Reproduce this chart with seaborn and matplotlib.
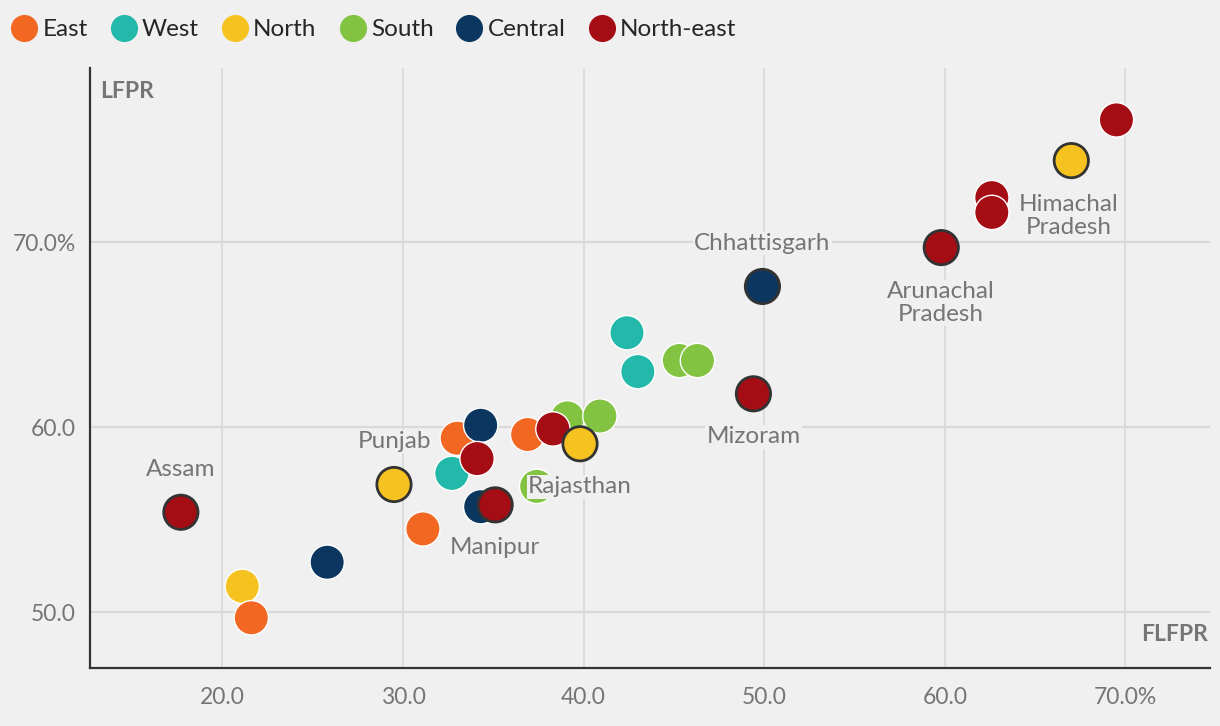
import pandas as pd
import matplotlib
matplotlib.use("Agg")
import matplotlib.pyplot as plt
from matplotlib.lines import Line2D
import seaborn as sns

# one row per state: region, female LFPR (x), overall LFPR (y), label if highlighted
region = ['North-east', 'North', 'East', 'Central', 'North', 'East', 'West', 'East',
          'Central', 'North-east', 'Central', 'North-east', 'East', 'South', 'South',
          'North-east', 'South', 'North', 'West', 'West', 'South', 'South',
          'North-east', 'Central', 'North-east', 'North-east', 'North-east', 'North',
          'North-east']
flfpr = [17.7, 21.1, 21.6, 25.8, 29.5, 31.1, 32.7, 33.0, 34.3, 34.1, 34.3, 35.1,
         36.9, 37.4, 39.1, 38.3, 40.9, 39.8, 42.4, 43.0, 45.3, 46.3, 49.4, 49.9,
         59.8, 62.6, 62.6, 67.0, 69.5]
lfpr = [55.4, 51.4, 49.7, 52.7, 56.9, 54.5, 57.5, 59.4, 60.1, 58.3, 55.7, 55.8,
        59.6, 56.8, 60.5, 59.9, 60.6, 59.1, 65.1, 63.0, 63.6, 63.6, 61.8, 67.6,
        69.7, 72.4, 71.6, 74.4, 76.6]
state = ['Assam', '', '', '', 'Punjab', '', '', '', '', '', '', 'Manipur',
         '', '', '', '', '', 'Rajasthan', '', '', '', '', 'Mizoram', 'Chhattisgarh',
         'Arunachal\nPradesh', '', '', 'Himachal\nPradesh', '']

regions = ['East', 'West', 'North', 'South', 'Central', 'North-east']
colors = ['#f26722', '#22b9aa', '#f6c21f', '#82c341', '#0b365f', '#a50d15']

df = pd.DataFrame({'region': region, 'FLFPR': flfpr, 'LFPR': lfpr, 'state': state})
palette = dict(zip(regions, colors))

bg = '#f0f0f0'
sns.set_style('white', {'axes.facecolor': bg, 'figure.facecolor': bg})
plt.rcParams['font.family'] = ['Lato', 'DejaVu Sans']

fig = plt.figure(figsize=(12.2, 7.26), dpi=100)
ax = fig.add_axes([0.0738, 0.080, 0.918, 0.826])

for v in [20, 30, 40, 50, 60, 70]:
    ax.axvline(v, color='#d9d9d9', lw=1.2, zorder=0)
for v in [50, 60, 70]:
    ax.axhline(v, color='#d9d9d9', lw=1.6, zorder=0)

plain = df[df['state'] == '']
marked = df[df['state'] != '']
sns.scatterplot(data=plain, x='FLFPR', y='LFPR', hue='region', palette=palette,
                s=610, edgecolor='white', linewidth=1, legend=False, ax=ax, zorder=2)
sns.scatterplot(data=marked, x='FLFPR', y='LFPR', hue='region', palette=palette,
                s=610, edgecolor='#333333', linewidth=2, legend=False, ax=ax, zorder=3)

for _, r in marked.iterrows():
    two = '\n' in r['state']
    below = r['state'] in ('Manipur', 'Rajasthan', 'Mizoram', 'Arunachal\nPradesh',
                           'Himachal\nPradesh')
    dy = (40 if two else 31) * (-1 if below else 1)
    dx = -2 if r['state'] == 'Himachal\nPradesh' else 0
    ax.annotate(r['state'], (r['FLFPR'], r['LFPR']), xytext=(dx, dy),
                textcoords='offset points', ha='center', va='center',
                fontsize=17.5, color='#757575', linespacing=1.1, zorder=4,
                bbox=dict(boxstyle='square,pad=0.05', fc=bg, ec='none'))

ax.set_xlim(12.67, 74.68)
ax.set_ylim(46.99, 79.39)
ax.set_xticks([20, 30, 40, 50, 60, 70])
ax.set_xticklabels(['20.0', '30.0', '40.0', '50.0', '60.0', '70.0%'])
ax.set_yticks([50, 60, 70])
ax.set_yticklabels(['50.0', '60.0', '70.0%'])
ax.tick_params(length=0, labelsize=16.5, labelcolor='#757575', pad=14)
ax.tick_params(axis='y', pad=10)
ax.set_xlabel('')
ax.set_ylabel('')
for side in ['top', 'right']:
    ax.spines[side].set_visible(False)
for side in ['left', 'bottom']:
    ax.spines[side].set_color('#333333')
    ax.spines[side].set_linewidth(1.6)

ax.text(0.009, 0.978, 'LFPR', transform=ax.transAxes, fontsize=16.5,
        fontweight='bold', color='#757575', ha='left', va='top')
ax.text(0.998, 0.055, 'FLFPR', transform=ax.transAxes, fontsize=16.5,
        fontweight='bold', color='#757575', ha='right', va='center')

handles = [Line2D([], [], marker='o', ls='', markersize=19.5, markerfacecolor=c,
                  markeredgecolor='none') for c in colors]
fig.legend(handles, regions, loc='center left', bbox_to_anchor=(0.0, 0.959),
           ncol=6, frameon=False, fontsize=17.5, handletextpad=0.15,
           columnspacing=0.88, handlelength=1.2, borderaxespad=0)

fig.savefig('out.png', dpi=100, facecolor=bg)
